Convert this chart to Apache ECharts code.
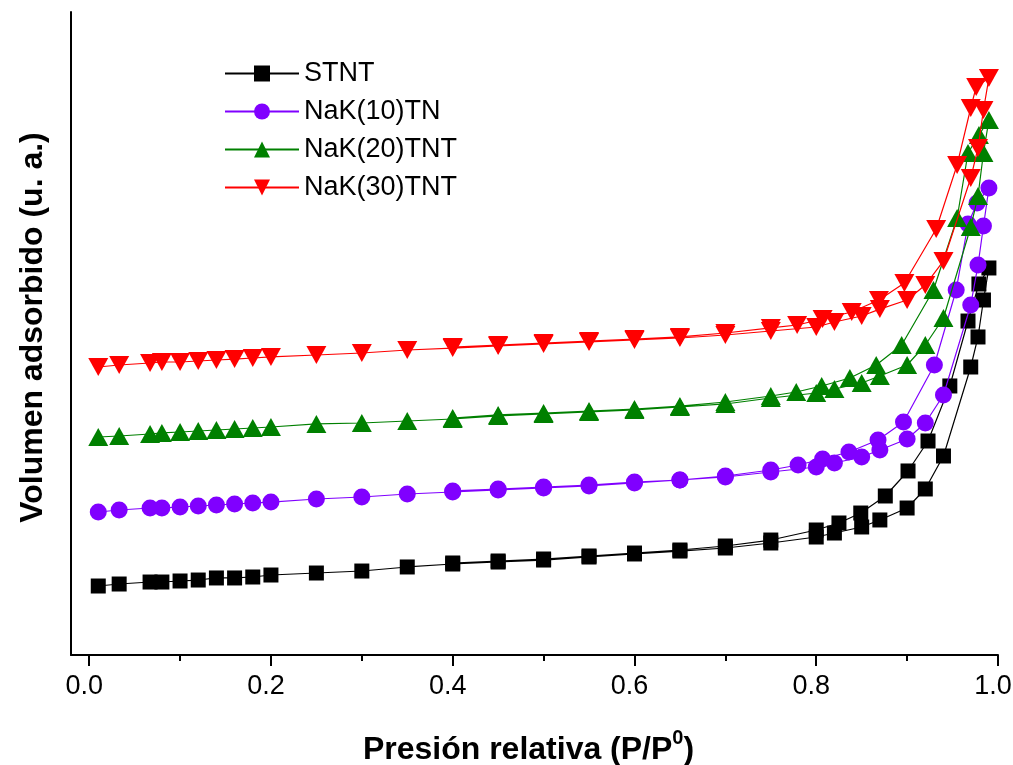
<!DOCTYPE html>
<html><head><meta charset="utf-8">
<script src="https://cdn.jsdelivr.net/npm/echarts@6/dist/echarts.min.js"></script>
<style>html,body{margin:0;padding:0;background:#fff}#c{width:1013px;height:765px}</style>
</head><body><div id="c"></div>
<script>
const xTicks = [0, 0.2, 0.4, 0.6, 0.8, 1.0];
const xMinorTicks = [0.1, 0.3, 0.5, 0.7, 0.9];
const seriesNames = ['STNT', 'NaK(10)TN', 'NaK(20)TNT', 'NaK(30)TNT'];
const seriesColors = ['#000000', '#8000FF', '#008000', '#FF0000'];

// adsorption branch (relative pressure)
const adsP = [0.01,0.033,0.067,0.08,0.1,0.12,0.14,0.16,0.18,0.2,0.25,0.3,0.35,0.4,0.45,0.5,0.55,0.6,0.65,0.7,0.75,0.8,0.82,0.85,0.87,0.9,0.92,0.94,0.97,0.978,0.984,0.99];

const stntAdsV = [10.73,11.04,11.35,11.35,11.51,11.66,11.98,11.98,12.13,12.44,12.75,13.06,13.69,14.15,14.46,14.77,15.24,15.71,16.17,16.64,17.42,18.35,18.97,19.91,21.0,22.86,25.82,30.95,44.79,49.46,55.21,60.19];
const stntDesP = [0.979,0.967,0.947,0.923,0.901,0.876,0.849,0.825,0.8,0.75,0.7,0.65,0.6,0.55,0.5,0.45,0.4];
const stntDesV = [57.7,51.94,41.84,33.28,28.62,24.73,22.08,20.53,19.44,17.88,16.95,16.33,15.86,15.40,14.93,14.62,14.31];

const nak10AdsV = [22.24,22.55,22.86,22.86,23.02,23.17,23.33,23.48,23.64,23.79,24.26,24.57,25.04,25.35,25.66,25.97,26.28,26.75,27.22,27.68,28.46,29.24,29.86,30.79,31.88,33.59,36.08,40.44,54.43,60.65,66.72,72.63];
const nak10DesP = [0.977,0.967,0.954,0.93,0.896,0.868,0.836,0.807,0.78,0.75,0.7,0.65,0.6,0.55,0.5,0.45,0.4];
const nak10DesV = [70.3,67.03,56.77,45.1,36.24,33.44,31.57,30.48,29.55,28.77,27.84,27.22,26.9,26.44,26.13,25.82,25.51];

const nak20AdsV = [33.9,34.06,34.37,34.53,34.68,34.84,34.99,35.15,35.30,35.46,35.93,36.08,36.39,36.70,37.17,37.48,37.79,38.10,38.57,39.04,39.97,40.75,41.37,42.30,43.39,45.1,48.21,52.41,66.56,71.38,78.07,83.2];
const nak20DesP = [0.979,0.967,0.955,0.929,0.894,0.866,0.837,0.806,0.778,0.75,0.7,0.65,0.6,0.55,0.5,0.45,0.4];
const nak20DesV = [80.87,78.07,67.96,56.77,48.21,45.10,43.08,41.84,40.90,40.28,39.35,38.72,38.26,37.95,37.64,37.33,36.86];

const nak30AdsV = [44.79,45.1,45.41,45.57,45.57,45.72,45.88,46.03,46.19,46.35,46.66,46.97,47.43,47.74,48.06,48.37,48.68,48.99,49.3,49.77,50.39,51.01,51.79,52.72,53.8,55.21,57.54,61.28,74.18,78.85,84.76,89.74];
const nak30DesP = [0.976,0.97,0.955,0.932,0.897,0.869,0.839,0.807,0.779,0.75,0.7,0.65,0.6,0.55,0.5,0.45,0.4];
const nak30DesV = [88.34,85.07,76.21,66.25,57.85,55.21,53.34,52.26,51.32,50.86,50.08,49.46,49.14,48.83,48.52,48.21,47.9];

const FONT = '"Liberation Sans", Arial, sans-serif';

function pairs(px, vy) { return px.map((p, i) => [p, vy[i]]); }
function isotherm(adsV, desP, desV) { return pairs(adsP, adsV).concat(pairs(desP, desV)); }

const seriesData = [
  isotherm(stntAdsV, stntDesP, stntDesV),
  isotherm(nak10AdsV, nak10DesP, nak10DesV),
  isotherm(nak20AdsV, nak20DesP, nak20DesV),
  isotherm(nak30AdsV, nak30DesP, nak30DesV)
];
const symbols = ['rect', 'circle', 'triangle', 'path://M0,0L20,0L10,18Z'];
const symbolSizes = [15, 17, [20, 18], [20, 18]];

const chart = echarts.init(document.getElementById('c'), null, {renderer: 'canvas'});
chart.setOption({
  animation: false,
  backgroundColor: '#fff',
  grid: {left: 71, right: 15, top: 12, bottom: 110, containLabel: false, outerBoundsMode: 'none'},
  legend: {
    orient: 'vertical', left: 219, top: 55, itemGap: 11,
    itemWidth: 74, itemHeight: 20,
    data: seriesNames,
    textStyle: {fontSize: 27, color: '#000', fontFamily: FONT}
  },
  xAxis: [{
    type: 'value', min: -0.02, max: 1.0, position: 'bottom',
    axisLine: {show: true, onZero: false, lineStyle: {color: '#000', width: 2}},
    axisTick: {show: true, customValues: xTicks, length: 11, inside: false, lineStyle: {color: '#000', width: 2}},
    axisLabel: {show: true, customValues: xTicks, formatter: v => v.toFixed(1), fontSize: 27, color: '#000', fontFamily: FONT, margin: 18, padding: [0, 10, 0, 0]},
    splitLine: {show: false},
    name: 'Presión relativa (P/P{sup|0})',
    nameLocation: 'middle', nameGap: 73,
    nameTextStyle: {
      fontSize: 32, fontWeight: 'bold', color: '#000', fontFamily: FONT, padding: [0, 12, 0, 0],
      rich: {sup: {fontSize: 20, fontWeight: 'bold', color: '#000', fontFamily: FONT, padding: [0, 0, 25, 0]}}
    }
  }, {
    type: 'value', min: -0.02, max: 1.0, position: 'bottom', gridIndex: 0,
    axisLine: {show: false},
    axisTick: {show: true, customValues: xMinorTicks, length: 6, inside: false, lineStyle: {color: '#000', width: 2}},
    axisLabel: {show: false},
    splitLine: {show: false}
  }],
  yAxis: {
    type: 'value', min: 0, max: 100,
    axisLine: {show: true, onZero: false, lineStyle: {color: '#000', width: 2}},
    axisTick: {show: false}, axisLabel: {show: false}, splitLine: {show: false},
    name: 'Volumen adsorbido (u. a.)',
    nameLocation: 'middle', nameGap: 22,
    nameTextStyle: {fontSize: 32, fontWeight: 'bold', color: '#000', fontFamily: FONT, padding: [0, 0, 0, 12]}
  },
  series: seriesNames.map((name, i) => ({
    name: name, type: 'line', xAxisIndex: 0,
    data: seriesData[i],
    symbol: symbols[i], symbolSize: symbolSizes[i],
    itemStyle: {color: seriesColors[i]},
    lineStyle: {color: seriesColors[i], width: 1.2},
    z: 2 + i
  }))
});
</script></body></html>
